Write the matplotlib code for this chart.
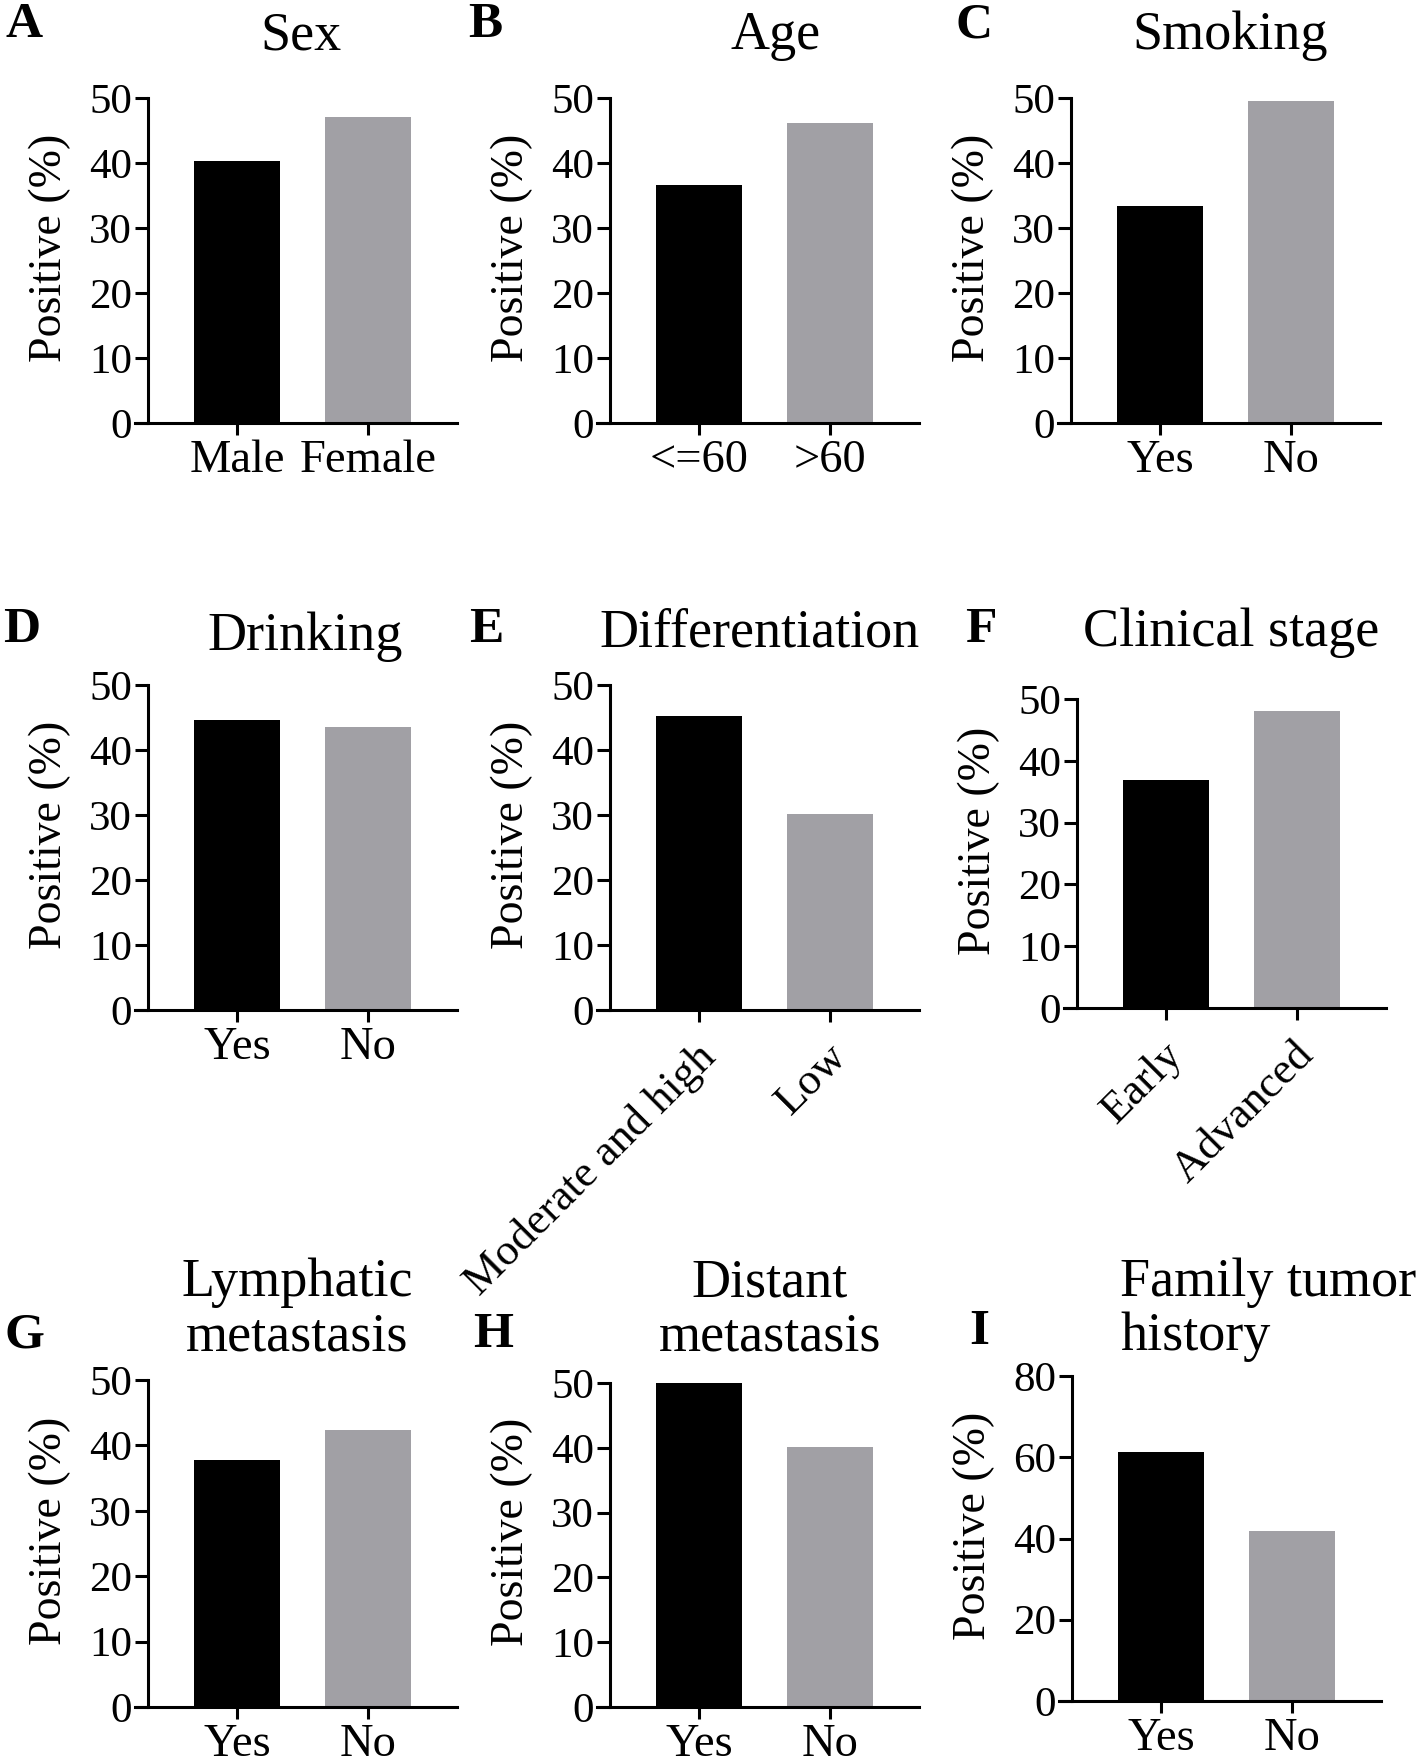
import matplotlib
matplotlib.use('Agg')
import matplotlib.pyplot as plt
from matplotlib.transforms import ScaledTranslation

plt.rcParams['font.family'] = 'Liberation Serif'

# data (percent positive)
sex_labels = ['Male', 'Female']
sex_vals = [40.3, 47.1]
age_labels = ['<=60', '>60']
age_vals = [36.6, 46.1]
smoke_labels = ['Yes', 'No']
smoke_vals = [33.4, 49.6]
drink_labels = ['Yes', 'No']
drink_vals = [44.6, 43.6]
diff_labels = ['Moderate and high', 'Low']
diff_vals = [45.2, 30.1]
stage_labels = ['Early', 'Advanced']
stage_vals = [36.9, 48.0]
lymph_labels = ['Yes', 'No']
lymph_vals = [37.8, 42.4]
distant_labels = ['Yes', 'No']
distant_vals = [50.0, 40.2]
family_labels = ['Yes', 'No']
family_vals = [61.4, 41.8]

W, H = 1419, 1764
fig = plt.figure(figsize=(W / 100, H / 100), dpi=100)

bar_colors = ['#000000', '#a1a0a5']
LW = 2.2


def panel(left, top, w, h, labels, vals, ymax=50, step=10, rotate=False):
    ax = fig.add_axes([left / W, 1 - (top + h) / H, w / W, h / H])
    ax.bar([0, 1], vals, width=0.66, color=bar_colors)
    ax.set_xlim(-0.68, 1.68)
    ax.set_ylim(0, ymax)
    ax.set_yticks(range(0, ymax + 1, step))
    ax.set_xticks([0, 1])
    ax.spines['top'].set_visible(False)
    ax.spines['right'].set_visible(False)
    for s in ['left', 'bottom']:
        ax.spines[s].set_linewidth(LW)
    ax.spines['bottom'].set_bounds(-0.68 - 13 / 131, 1.68)
    ax.tick_params(axis='y', length=9.4, width=LW, labelsize=31, pad=2)
    ax.tick_params(axis='x', length=8.6, width=LW, labelsize=33.5, pad=3)
    if rotate:
        ax.set_xticklabels(labels, rotation=45, ha='right', va='center',
                           rotation_mode='anchor', fontsize=32)
        ax.tick_params(axis='x', pad=14)
        shift = ScaledTranslation(11 / 100, -9 / 100, fig.dpi_scale_trans)
        for lbl in ax.get_xticklabels():
            lbl.set_transform(lbl.get_transform() + shift)
    else:
        ax.set_xticklabels(labels)
    ax.set_ylabel('Positive (%)', fontsize=33)
    ax.yaxis.set_label_coords(-0.25, 0.54)
    return ax


panel(148, 98, 309, 325, sex_labels, sex_vals)
panel(610, 98, 309, 325, age_labels, age_vals)
panel(1071, 98, 309, 325, smoke_labels, smoke_vals)
panel(148, 685, 309, 325, drink_labels, drink_vals)
panel(610, 685, 309, 325, diff_labels, diff_vals, rotate=True)
panel(1077, 699, 309, 309, stage_labels, stage_vals, rotate=True)
panel(148, 1380, 309, 327, lymph_labels, lymph_vals)
panel(610, 1383, 309, 324, distant_labels, distant_vals)
panel(1072, 1376, 309, 325, family_labels, family_vals, ymax=80, step=20)


def ftext(x, y, s, **kw):
    fig.text(x / W, 1 - y / H, s, va='center', **kw)


# titles
TS = 39
ftext(301, 36, 'Sex', ha='center', fontsize=TS)
ftext(776, 36, 'Age', ha='center', fontsize=TS)
ftext(1230, 36, 'Smoking', ha='center', fontsize=TS)
ftext(305, 637, 'Drinking', ha='center', fontsize=TS)
ftext(760, 633, 'Differentiation', ha='center', fontsize=TS)
ftext(1231, 633, 'Clinical stage', ha='center', fontsize=TS)
ftext(297, 1310, 'Lymphatic\nmetastasis', ha='center', fontsize=TS, linespacing=1.1)
ftext(770, 1310, 'Distant\nmetastasis', ha='center', fontsize=TS, linespacing=1.1)
ftext(1120, 1310, 'Family tumor\nhistory', ha='left', fontsize=TS, linespacing=1.1)

# panel letters
for lt, x, y in [('A', 24, 25), ('B', 485, 25), ('C', 974, 25),
                 ('D', 22, 630), ('E', 486, 630), ('F', 981, 630),
                 ('G', 24, 1335), ('H', 493, 1335), ('I', 979, 1332)]:
    ftext(x, y, lt, ha='center', fontsize=37, fontweight='bold')

fig.savefig('out.png', dpi=100)
